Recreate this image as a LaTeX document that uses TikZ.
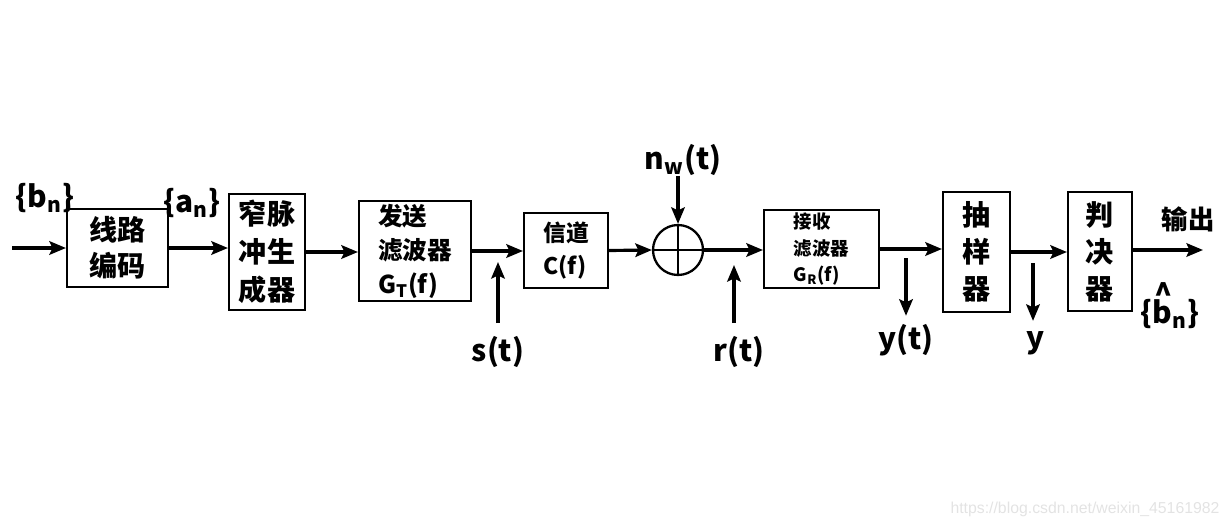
\documentclass[tikz,border=0pt]{standalone}
\usepackage{fontspec}
\setmainfont{Noto Sans CJK SC}
\newfontfamily\wmfont{Liberation Sans}
\usetikzlibrary{arrows.meta}

\begin{document}
\begin{tikzpicture}[x=0.02cm,y=-0.02cm,
    blk/.style={draw,line width=1.2pt,inner sep=0pt,align=center,
      font=\bfseries\fontsize{16}{20.5}\selectfont},
    lbl/.style={inner sep=0pt,font=\bfseries\fontsize{17}{20}\selectfont},
    arr/.style={line width=1.8pt,-{Stealth[length=0.33cm,width=0.27cm,inset=0.06cm]}}]
  \useasboundingbox (0,0) rectangle (1229,527);
  % blocks
  \node[blk,minimum width=2.02cm,minimum height=1.56cm] (xlbm) at (117.5,248) {线路\\编码};
  \node[blk,minimum width=1.52cm,minimum height=2.32cm,
    font=\bfseries\fontsize{16}{21.5}\selectfont] (zmc) at (267,252) {窄脉\\冲生\\成器};
  \node[blk,minimum width=2.24cm,minimum height=2.0cm,align=left,
    font=\bfseries\fontsize{14}{19.4}\selectfont] (fslb) at (415,251) {发送\\滤波器\\G\textsubscript{T}(f)};
  \node[blk,minimum width=1.68cm,minimum height=1.5cm,align=left,
    font=\bfseries\fontsize{13}{18.5}\selectfont] (xd) at (566,250.5) {信道\\C(f)};
  \node[draw,circle,line width=1.3pt,minimum size=1.0cm,inner sep=0pt] (add) at (678,250) {};
  \draw[line width=1.1pt] (add.north) -- (add.south) (add.west) -- (add.east);
  \node[blk,minimum width=2.3cm,minimum height=1.56cm,align=left,
    font=\bfseries\fontsize{10.5}{15}\selectfont] (jslb) at (821.5,249) {接收\\滤波器\\G\textsubscript{R}(f)};
  \node[blk,minimum width=1.34cm,minimum height=2.4cm,
    font=\bfseries\fontsize{16}{21}\selectfont] (cyq) at (976.5,252) {抽\\样\\器};
  \node[blk,minimum width=1.28cm,minimum height=2.38cm,
    font=\bfseries\fontsize{16}{21}\selectfont] (pjq) at (1100,251.5) {判\\决\\器};
  % labels
  \node[lbl] (bn) at (45,198) {\{b\textsubscript{n}\}};
  \node[lbl] (an) at (192,203) {\{a\textsubscript{n}\}};
  \node[lbl] (nw) at (683,160) {n\textsubscript{w}(t)};
  \node[lbl] (st) at (498,352) {s(t)};
  \node[lbl] (rt) at (739,352) {r(t)};
  \node[lbl] (yt) at (906,340) {y(t)};
  \node[lbl] (ys) at (1036,343) {y};
  \node[lbl,font=\bfseries\fontsize{15}{18}\selectfont] (sc) at (1188,219) {输出};
  \node[lbl] (bh) at (1170,306) {\{\rlap{\hspace{0.05em}\raisebox{0.6em}{\textasciicircum}}b\textsubscript{n}\}};
  \node[font=\wmfont\fontsize{9}{11}\selectfont,text=gray!22] (wm) at (1085,509) {https://blog.csdn.net/weixin\_45161982};
  % connectors
  \coordinate (in) at (12,248);
  \coordinate (out) at (1203,250);
  \coordinate (sa) at (498,262);
  \coordinate (ra) at (734,265);
  \coordinate (ya) at (906,258);
  \coordinate (yb) at (1033,263);
  \draw[arr] (in) -- (in -| xlbm.west);
  \draw[arr] (xlbm.east) -- (xlbm.east -| zmc.west);
  \draw[arr] (zmc.east) -- (zmc.east -| fslb.west);
  \draw[arr] (fslb.east) -- (fslb.east -| xd.west);
  \draw[arr] (xd.east) -- (add.west);
  \draw[arr] (add.east) -- (add.east -| jslb.west);
  \draw[arr] (jslb.east) -- (jslb.east -| cyq.west);
  \draw[arr] (cyq.east) -- (cyq.east -| pjq.west);
  \draw[arr] (pjq.east |- out) -- (out);
  \draw[arr] (nw.south -| add.north) -- (add.north);
  \draw[arr,shorten <=0.26cm] (st.north) -- (sa);
  \draw[arr,shorten <=0.26cm] (ra |- rt.north) -- (ra);
  \draw[arr,shorten >=0.16cm] (ya) -- (ya |- yt.north);
  \draw[arr,shorten >=0.2cm] (yb) -- (yb |- ys.north);
\end{tikzpicture}
\end{document}
